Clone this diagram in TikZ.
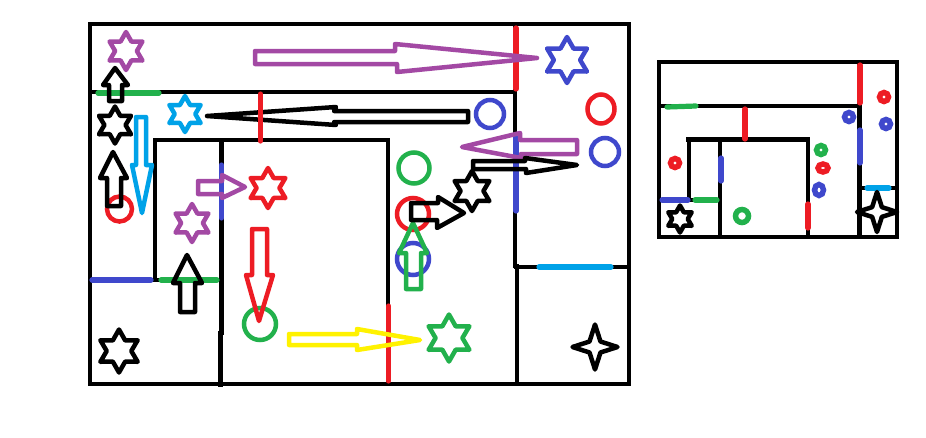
\documentclass[tikz,border=0pt]{standalone}
\usepackage{xcolor}
\usetikzlibrary{shapes.geometric}
\definecolor{wred}{HTML}{ED1C24}
\definecolor{wgreen}{HTML}{22B14C}
\definecolor{wblue}{HTML}{3F48CC}
\definecolor{wpurple}{HTML}{A349A4}
\definecolor{wcyan}{HTML}{00A2E8}
\definecolor{wyellow}{HTML}{FFF200}

\begin{document}
\begin{tikzpicture}[x=1pt, y=-1pt,
      wall/.style={line width=4.6pt, line cap=rect},
      thinwall/.style={line width=4.4pt, line cap=rect},
      door/.style={line width=5.2pt, line cap=round},
      blockarr/.style={line width=4.5pt, line join=round},
      hexstar/.style={star, star points=6, star point ratio=1.75, draw, line width=4.5pt,
                      line join=round, inner sep=0pt, minimum size=#1 pt},
      fourstar/.style={star, star points=4, star point ratio=2.9, draw, line width=4.5pt,
                      line join=round, inner sep=0pt, minimum size=#1 pt},
      ring/.style={ellipse, draw, line width=4.5pt, inner sep=0pt,
                   minimum width=#1 pt, minimum height=#1 pt},
      miniring/.style={ring=#1, line width=5.5pt}
    ]
      \useasboundingbox (0,0) rectangle (926,437);

      % Large map: walls
      \draw[wall] (90,24) rectangle (629,384);
      \draw[wall] (90,92) -- (515,92);
      \draw[wall] (515,24) -- (515,266);
      \draw[wall] (517,266) -- (517,384);
      \draw[wall] (516,267) -- (629,267);
      \draw[wall] (155,140) -- (388,140);
      \draw[wall] (155,140) -- (155,280);
      \draw[wall] (221.5,140) -- (221.5,333);
      \draw[wall] (220.5,333) -- (220.5,385);
      \draw[wall] (388,140) -- (388,384);
      \draw[wall] (90,280) -- (221,280);

      % Large map: doors
      \draw[door, wgreen] (98,93) -- (159,93);
      \draw[door, wblue] (92,280) -- (151,280);
      \draw[door, wgreen] (161,280) -- (217,280);
      \draw[door, wblue] (221.5,165) -- (221.5,218);
      \draw[door, wblue] (516,135) -- (516,211);
      \draw[door, wcyan] (539,267) -- (611,267);
      \draw[door, wred] (516,28) -- (516,89);
      \draw[door, wred] (388.5,306) -- (388.5,381);

      % Large map: rings
      \node[ring=25, wred] (redone) at (119.5,209) {};
      \node[ring=28, wblue] (blueone) at (490,114) {};
      \node[ring=27, minimum height=29pt, wred] (redtwo) at (601,109) {};
      \node[ring=28, wblue] (bluetwo) at (605,152) {};
      \node[ring=31, wgreen] (greenone) at (414,168) {};
      \node[ring=32, wred] (redthree) at (413,214) {};
      \node[ring=32, wblue] (bluethree) at (413,259) {};
      \node[ring=32, wgreen] (greentwo) at (260,324) {};

      % Large map: stars
      \node[hexstar=38, wpurple] (starpurple) at (126,51) {};
      \node[hexstar=37, black] (starblack) at (115,125) {};
      \node[hexstar=36, wcyan] (starcyan) at (185,114) {};
      \node[hexstar=40, wred] (starred) at (268,188) {};
      \node[hexstar=38, wpurple] (starlilac) at (192,223) {};
      \node[hexstar=43, black] (starcorner) at (119,351) {};
      \node[hexstar=46, wblue] (starblue) at (567,60) {};
      \node[hexstar=40, black] (starmid) at (472,191) {};
      \node[hexstar=47, wgreen] (stargreen) at (449,338) {};
      \node[fourstar=45, black] (starfour) at (595,347) {};

      % Large map: block arrows
      \draw[blockarr, wpurple] (255,51) -- (395,51) -- (395,44) -- (537,58) -- (397,72) -- (397,64) -- (255,64) -- cycle;
      \draw[blockarr, black] (115,68) -- (128,85) -- (122,85) -- (122,101) -- (109,101) -- (109,85) -- (103,85) -- cycle;
      \draw[blockarr, black] (207,116) -- (336,107) -- (334,111) -- (468,111) -- (468,122) -- (334,122) -- (336,125) -- cycle;
      \draw[blockarr, wcyan] (136,117) -- (146,117) -- (146,165) -- (152,165) -- (142,213) -- (132,165) -- (136,165) -- cycle;
      \draw[blockarr, black] (113,152) -- (127,178) -- (121,178) -- (121,206) -- (107,206) -- (107,178) -- (100,178) -- cycle;
      \draw[blockarr, wpurple] (198,181) -- (222,181) -- (222,175) -- (245,187) -- (222,198) -- (222,194) -- (198,194) -- cycle;
      \draw[blockarr, black] (187,255) -- (202,283) -- (195,283) -- (195,312) -- (180,312) -- (180,283) -- (173,283) -- cycle;
      \draw[blockarr, wred] (252,229) -- (267,229) -- (267,275) -- (273,275) -- (259,321) -- (246,275) -- (252,275) -- cycle;
      \draw[blockarr, wyellow] (289,334) -- (357,334) -- (357,329) -- (420,340) -- (357,350) -- (357,345) -- (289,345) -- cycle;
      \draw[blockarr, wgreen] (413,223) -- (427,253) -- (421,253) -- (421,289) -- (406,289) -- (406,253) -- (399,253) -- cycle;
      \draw[blockarr, black] (411,203) -- (438,203) -- (438,197) -- (464,213) -- (437,228) -- (437,220) -- (411,220) -- cycle;
      \draw[blockarr, wpurple] (462,147) -- (520,133) -- (520,140) -- (577,140) -- (577,154) -- (521,154) -- (521,158) -- cycle;
      \draw[blockarr, black] (473,161) -- (525,161) -- (525,158) -- (577,165) -- (526,173) -- (526,169) -- (473,169) -- cycle;
      \draw[door, wred] (260.5,94) -- (260.5,141);

      % Small map: walls
      \draw[thinwall] (659,62) rectangle (897,237);
      \draw[thinwall] (659,106) -- (860,106);
      \draw[thinwall] (859.5,62) -- (859.5,237);
      \draw[thinwall] (860,188) -- (897,188);
      \draw[thinwall] (688,139.5) -- (808,139.5);
      \draw[thinwall] (689,139.5) -- (689,200);
      \draw[thinwall] (720,139.5) -- (720,237);
      \draw[thinwall] (808,139.5) -- (808,237);
      \draw[thinwall] (659,200) -- (720,200);

      % Small map: doors
      \draw[door, wred] (860,65) -- (860,103);
      \draw[door, wred] (745,109) -- (745,139);
      \draw[door, wred] (808,204) -- (808,228);
      \draw[door, wgreen] (667,107) -- (696,106);
      \draw[door, wblue] (721,158) -- (721,181);
      \draw[door, wblue] (860,130) -- (860,163);
      \draw[door, wblue] (662,200) -- (688,200);
      \draw[door, wgreen] (695,200) -- (717,200);
      \draw[door, wcyan] (867,188) -- (889,188);

      % Small map: rings
      \node[miniring=9, wred] (minired) at (884,97) {};
      \node[miniring=9, wblue] (miniblue) at (886,124) {};
      \node[miniring=9, wblue] (miniblueb) at (849,117) {};
      \node[miniring=9, wgreen] (minigreen) at (821,150) {};
      \node[miniring=10, minimum height=8pt, wred] (miniredb) at (823,168) {};
      \node[miniring=9, minimum height=11pt, wblue] (minibluec) at (819,190) {};
      \node[miniring=9, wred] (miniredc) at (675,163) {};
      \node[miniring=13, wgreen] (minigreenb) at (742,216) {};

      % Small map: stars
      \node[hexstar=27, black] (ministar) at (680,219) {};
      \node[fourstar=40, black] (minifour) at (877,212) {};
    \end{tikzpicture}
\end{document}
